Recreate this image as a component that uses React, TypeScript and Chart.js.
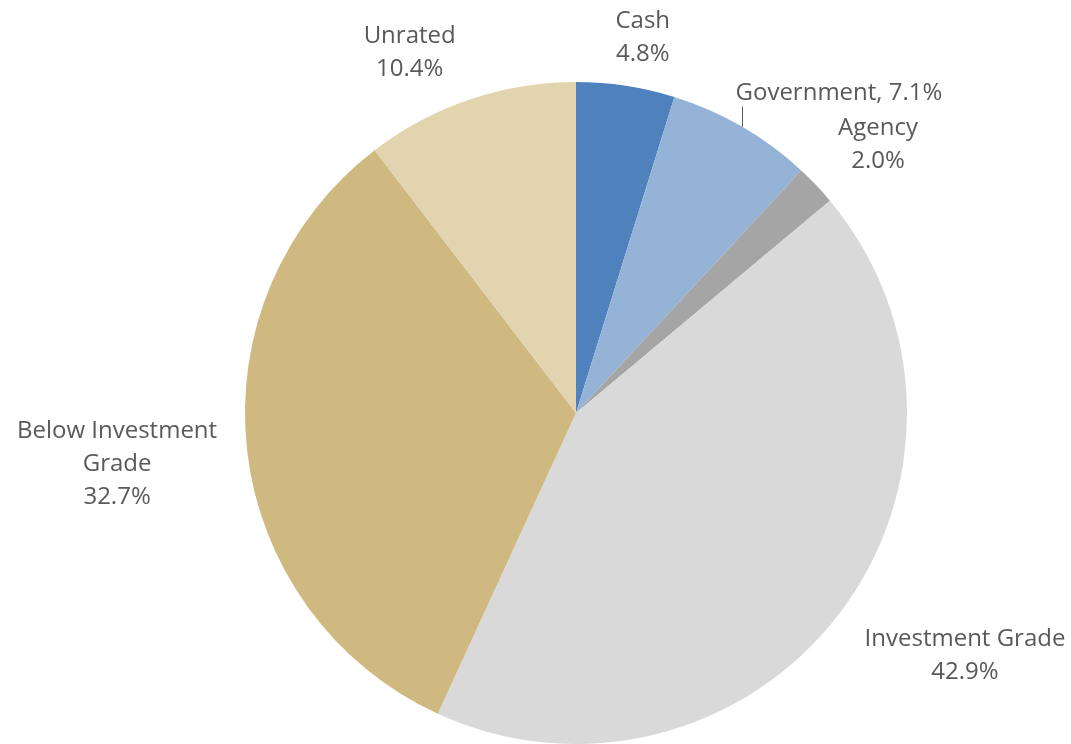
import React, { useEffect, useRef } from "react";
import { Chart, registerables } from "chart.js";

Chart.register(...registerables);

const categories = ["Cash", "Government", "Agency", "Investment Grade", "Below Investment Grade", "Unrated"];
const values = [4.8, 7.1, 2.0, 42.9, 32.7, 10.4];
const labelLines = [
  ["Cash", "4.8%"],
  ["Government, 7.1%"],
  ["Agency", "2.0%"],
  ["Investment Grade", "42.9%"],
  ["Below Investment", "Grade", "32.7%"],
  ["Unrated", "10.4%"],
];
const colors = ["#4F81BD", "#95B3D7", "#A5A5A5", "#D9D9D9", "#CFB981", "#E2D4AF"];
// offsets of label block centre from the arc's outer mid point
const labelOffsets = [
  [17, -48],
  [97, -33],
  [62, -40],
  [126, 42],
  [-130, 14],
  [-60, -47],
];
const leaderLines = [false, true, false, false, false, false];

const FONT = "24px 'Open Sans'";
const LINE_H = 33;

const labelPlugin = {
  id: "outerLabels",
  afterDatasetsDraw(chart: any) {
    const ctx = chart.ctx;
    const meta = chart.getDatasetMeta(0);
    ctx.save();
    ctx.font = FONT;
    ctx.fillStyle = "#595959";
    ctx.textAlign = "center";
    ctx.textBaseline = "middle";
    meta.data.forEach((arc: any, i: number) => {
      const { x, y, startAngle, endAngle, outerRadius } = arc.getProps(
        ["x", "y", "startAngle", "endAngle", "outerRadius"],
        true
      );
      const mid = (startAngle + endAngle) / 2;
      const ox = x + Math.cos(mid) * outerRadius;
      const oy = y + Math.sin(mid) * outerRadius;
      const [dx, dy] = labelOffsets[i];
      const cx = ox + dx;
      const cy = oy + dy;
      const lines = labelLines[i];
      const startY = cy - ((lines.length - 1) * LINE_H) / 2;
      lines.forEach((t, k) => ctx.fillText(t, cx, startY + k * LINE_H));
      if (leaderLines[i]) {
        ctx.strokeStyle = "#595959";
        ctx.lineWidth = 1;
        ctx.beginPath();
        ctx.moveTo(Math.round(ox) + 0.5, oy);
        ctx.lineTo(Math.round(ox) + 0.5, oy - 20);
        ctx.stroke();
      }
    });
    ctx.restore();
  },
};

export default function App() {
  const ref = useRef<HTMLCanvasElement>(null);
  useEffect(() => {
    document.body.style.margin = "0";
    const chart = new Chart(ref.current as HTMLCanvasElement, {
      type: "pie",
      data: {
        labels: categories,
        datasets: [
          {
            data: values,
            backgroundColor: colors,
            borderWidth: 0,
          },
        ],
      },
      options: {
        animation: false,
        responsive: false,
        maintainAspectRatio: false,
        layout: { padding: { top: 82, bottom: 0, left: 245, right: 164 } },
        plugins: { legend: { display: false }, tooltip: { enabled: false } },
      },
      plugins: [labelPlugin],
    });
    return () => chart.destroy();
  }, []);
  return (
    <div style={{ position: "absolute", left: 0, top: 0, width: 1071, height: 744, background: "#fff" }}>
      <canvas ref={ref} width={1071} height={744} style={{ width: 1071, height: 744 }} />
    </div>
  );
}
